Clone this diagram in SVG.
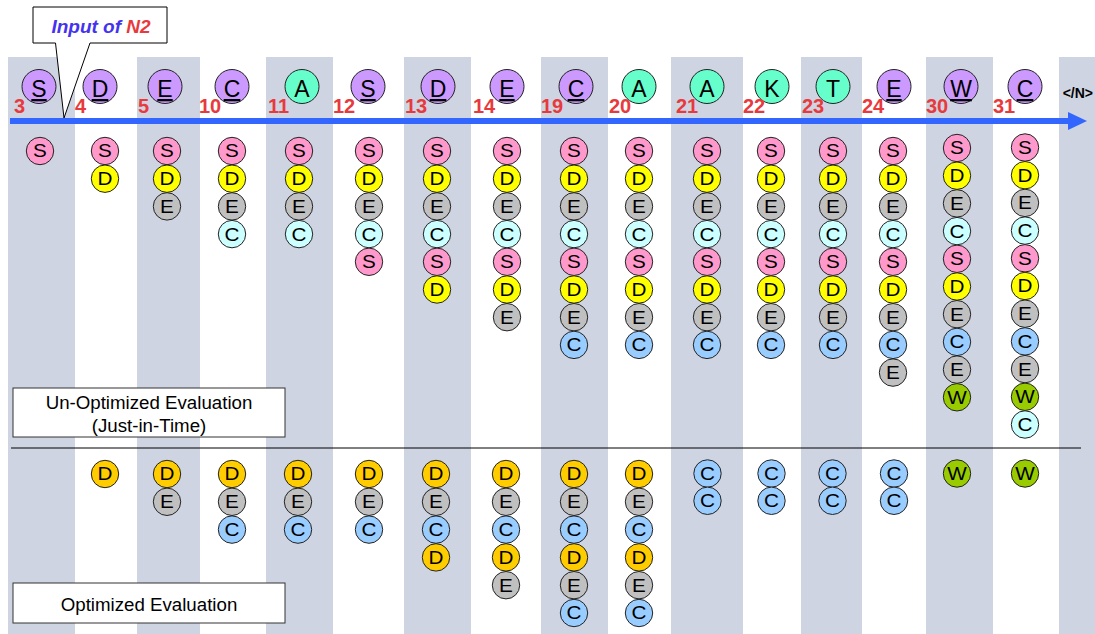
<svg xmlns="http://www.w3.org/2000/svg" width="1095" height="634" viewBox="0 0 1095 634">
<style>
.stripe{fill:#CED4E2}
.big{stroke:#222;stroke-width:1}
.sm{stroke:#222;stroke-width:1}
.bl{font-family:"Liberation Sans",Arial,sans-serif;font-size:23px;text-anchor:middle;fill:#000}
.u{text-decoration:underline}
.sl{font-family:"Liberation Sans",Arial,sans-serif;font-size:18px;text-anchor:middle;fill:#000}
.num{font-family:"Liberation Sans",Arial,sans-serif;font-size:20px;font-weight:bold;fill:#E8393D}
.lab{font-family:"Liberation Sans",Arial,sans-serif;font-size:18.7px;text-anchor:middle;fill:#000}
.box{fill:#fff;stroke:#333;stroke-width:1}
.pu{fill:#CC99FF}.gr{fill:#66FFCC}
.pk{fill:#FF99CC}.ye{fill:#FFFF00}.gy{fill:#C0C0C0}.lc{fill:#CCFFFF}.bu{fill:#99CCFF}.gn{fill:#99CC00}.or{fill:#FFCC00}
</style>
<rect width="1095" height="634" fill="#fff"/>
<g id="stripes">
<rect class="stripe" x="8" y="57" width="67" height="577"/>
<rect class="stripe" x="137" y="57" width="63" height="577"/>
<rect class="stripe" x="266" y="57" width="67" height="577"/>
<rect class="stripe" x="404" y="57" width="67" height="577"/>
<rect class="stripe" x="541" y="57" width="67" height="577"/>
<rect class="stripe" x="671" y="57" width="72" height="577"/>
<rect class="stripe" x="801" y="57" width="61" height="577"/>
<rect class="stripe" x="926" y="57" width="67" height="577"/>
<rect class="stripe" x="1059" y="57" width="36" height="577"/>
</g>
<g id="connectors">
<line x1="10" y1="121" x2="1070" y2="121" stroke="#3366FF" stroke-width="6"/>
<polygon points="1068,112 1087,121 1068,130" fill="#3366FF"/>
<line x1="11" y1="448" x2="1081" y2="448" stroke="#000" stroke-width="1"/>
</g>
<g id="callout">
<path d="M33,7 H167 V43 H90 L64,118 L55.5,43 H33 Z" fill="#fff" stroke="#000" stroke-width="1"/>
<text x="101" y="33" text-anchor="middle" font-family="'Liberation Sans',Arial,sans-serif" font-size="19" font-weight="bold" font-style="italic"><tspan fill="#4433EE">Input of </tspan><tspan fill="#E8393D">N2</tspan></text>
</g>
<g id="headers">
<g id="h0"><circle class="big pu" cx="39" cy="86.5" r="17"/><text class="bl u" x="39" y="97">S</text><text class="num" x="14" y="113">3</text></g>
<g id="h1"><circle class="big pu" cx="100" cy="86.5" r="17"/><text class="bl u" x="100" y="97">D</text><text class="num" x="75" y="113">4</text></g>
<g id="h2"><circle class="big pu" cx="165" cy="86.5" r="17"/><text class="bl u" x="165" y="97">E</text><text class="num" x="138" y="113">5</text></g>
<g id="h3"><circle class="big pu" cx="232" cy="86.5" r="17"/><text class="bl u" x="232" y="97">C</text><text class="num" x="199" y="113">10</text></g>
<g id="h4"><circle class="big gr" cx="302" cy="86.5" r="17"/><text class="bl" x="302" y="97">A</text><text class="num" x="268" y="113">11</text></g>
<g id="h5"><circle class="big pu" cx="368" cy="86.5" r="17"/><text class="bl u" x="368" y="97">S</text><text class="num" x="333" y="113">12</text></g>
<g id="h6"><circle class="big pu" cx="438" cy="86.5" r="17"/><text class="bl u" x="438" y="97">D</text><text class="num" x="405" y="113">13</text></g>
<g id="h7"><circle class="big pu" cx="507" cy="86.5" r="17"/><text class="bl u" x="507" y="97">E</text><text class="num" x="473" y="113">14</text></g>
<g id="h8"><circle class="big pu" cx="576" cy="86.5" r="17"/><text class="bl u" x="576" y="97">C</text><text class="num" x="541" y="113">19</text></g>
<g id="h9"><circle class="big gr" cx="639" cy="86.5" r="17"/><text class="bl" x="639" y="97">A</text><text class="num" x="609" y="113">20</text></g>
<g id="h10"><circle class="big gr" cx="707" cy="86.5" r="17"/><text class="bl" x="707" y="97">A</text><text class="num" x="676" y="113">21</text></g>
<g id="h11"><circle class="big gr" cx="772" cy="86.5" r="17"/><text class="bl" x="772" y="97">K</text><text class="num" x="743" y="113">22</text></g>
<g id="h12"><circle class="big gr" cx="833" cy="86.5" r="17"/><text class="bl" x="833" y="97">T</text><text class="num" x="802" y="113">23</text></g>
<g id="h13"><circle class="big pu" cx="894" cy="86.5" r="17"/><text class="bl u" x="894" y="97">E</text><text class="num" x="862" y="113">24</text></g>
<g id="h14"><circle class="big pu" cx="961" cy="86.5" r="17"/><text class="bl u" x="961" y="97">W</text><text class="num" x="926" y="113">30</text></g>
<g id="h15"><circle class="big pu" cx="1025" cy="86.5" r="17"/><text class="bl u" x="1025" y="97">C</text><text class="num" x="993" y="113">31</text></g>
<text x="1093" y="98" text-anchor="end" font-family="'Liberation Sans',Arial,sans-serif" font-size="14" font-weight="bold">&lt;/N&gt;</text>
</g>
<g id="upper">
<g id="u0">
<g transform="translate(40,151)"><circle class="sm pk" r="13.7"/><text class="sl" y="6.4" transform="scale(1.15,1)">S</text></g>
</g>
<g id="u1">
<g transform="translate(105,151)"><circle class="sm pk" r="13.7"/><text class="sl" y="6.4" transform="scale(1.15,1)">S</text></g>
<g transform="translate(105,178.7)"><circle class="sm ye" r="13.7"/><text class="sl" y="6.4" transform="scale(1.15,1)">D</text></g>
</g>
<g id="u2">
<g transform="translate(167,151)"><circle class="sm pk" r="13.7"/><text class="sl" y="6.4" transform="scale(1.15,1)">S</text></g>
<g transform="translate(167,178.7)"><circle class="sm ye" r="13.7"/><text class="sl" y="6.4" transform="scale(1.15,1)">D</text></g>
<g transform="translate(167,206.4)"><circle class="sm gy" r="13.7"/><text class="sl" y="6.4" transform="scale(1.15,1)">E</text></g>
</g>
<g id="u3">
<g transform="translate(232,151)"><circle class="sm pk" r="13.7"/><text class="sl" y="6.4" transform="scale(1.15,1)">S</text></g>
<g transform="translate(232,178.7)"><circle class="sm ye" r="13.7"/><text class="sl" y="6.4" transform="scale(1.15,1)">D</text></g>
<g transform="translate(232,206.4)"><circle class="sm gy" r="13.7"/><text class="sl" y="6.4" transform="scale(1.15,1)">E</text></g>
<g transform="translate(232,234.1)"><circle class="sm lc" r="13.7"/><text class="sl" y="6.4" transform="scale(1.15,1)">C</text></g>
</g>
<g id="u4">
<g transform="translate(299,151)"><circle class="sm pk" r="13.7"/><text class="sl" y="6.4" transform="scale(1.15,1)">S</text></g>
<g transform="translate(299,178.7)"><circle class="sm ye" r="13.7"/><text class="sl" y="6.4" transform="scale(1.15,1)">D</text></g>
<g transform="translate(299,206.4)"><circle class="sm gy" r="13.7"/><text class="sl" y="6.4" transform="scale(1.15,1)">E</text></g>
<g transform="translate(299,234.1)"><circle class="sm lc" r="13.7"/><text class="sl" y="6.4" transform="scale(1.15,1)">C</text></g>
</g>
<g id="u5">
<g transform="translate(369,151)"><circle class="sm pk" r="13.7"/><text class="sl" y="6.4" transform="scale(1.15,1)">S</text></g>
<g transform="translate(369,178.7)"><circle class="sm ye" r="13.7"/><text class="sl" y="6.4" transform="scale(1.15,1)">D</text></g>
<g transform="translate(369,206.4)"><circle class="sm gy" r="13.7"/><text class="sl" y="6.4" transform="scale(1.15,1)">E</text></g>
<g transform="translate(369,234.1)"><circle class="sm lc" r="13.7"/><text class="sl" y="6.4" transform="scale(1.15,1)">C</text></g>
<g transform="translate(369,261.8)"><circle class="sm pk" r="13.7"/><text class="sl" y="6.4" transform="scale(1.15,1)">S</text></g>
</g>
<g id="u6">
<g transform="translate(437,151)"><circle class="sm pk" r="13.7"/><text class="sl" y="6.4" transform="scale(1.15,1)">S</text></g>
<g transform="translate(437,178.7)"><circle class="sm ye" r="13.7"/><text class="sl" y="6.4" transform="scale(1.15,1)">D</text></g>
<g transform="translate(437,206.4)"><circle class="sm gy" r="13.7"/><text class="sl" y="6.4" transform="scale(1.15,1)">E</text></g>
<g transform="translate(437,234.1)"><circle class="sm lc" r="13.7"/><text class="sl" y="6.4" transform="scale(1.15,1)">C</text></g>
<g transform="translate(437,261.8)"><circle class="sm pk" r="13.7"/><text class="sl" y="6.4" transform="scale(1.15,1)">S</text></g>
<g transform="translate(437,289.5)"><circle class="sm ye" r="13.7"/><text class="sl" y="6.4" transform="scale(1.15,1)">D</text></g>
</g>
<g id="u7">
<g transform="translate(507,151)"><circle class="sm pk" r="13.7"/><text class="sl" y="6.4" transform="scale(1.15,1)">S</text></g>
<g transform="translate(507,178.7)"><circle class="sm ye" r="13.7"/><text class="sl" y="6.4" transform="scale(1.15,1)">D</text></g>
<g transform="translate(507,206.4)"><circle class="sm gy" r="13.7"/><text class="sl" y="6.4" transform="scale(1.15,1)">E</text></g>
<g transform="translate(507,234.1)"><circle class="sm lc" r="13.7"/><text class="sl" y="6.4" transform="scale(1.15,1)">C</text></g>
<g transform="translate(507,261.8)"><circle class="sm pk" r="13.7"/><text class="sl" y="6.4" transform="scale(1.15,1)">S</text></g>
<g transform="translate(507,289.5)"><circle class="sm ye" r="13.7"/><text class="sl" y="6.4" transform="scale(1.15,1)">D</text></g>
<g transform="translate(507,317.2)"><circle class="sm gy" r="13.7"/><text class="sl" y="6.4" transform="scale(1.15,1)">E</text></g>
</g>
<g id="u8">
<g transform="translate(574,151)"><circle class="sm pk" r="13.7"/><text class="sl" y="6.4" transform="scale(1.15,1)">S</text></g>
<g transform="translate(574,178.7)"><circle class="sm ye" r="13.7"/><text class="sl" y="6.4" transform="scale(1.15,1)">D</text></g>
<g transform="translate(574,206.4)"><circle class="sm gy" r="13.7"/><text class="sl" y="6.4" transform="scale(1.15,1)">E</text></g>
<g transform="translate(574,234.1)"><circle class="sm lc" r="13.7"/><text class="sl" y="6.4" transform="scale(1.15,1)">C</text></g>
<g transform="translate(574,261.8)"><circle class="sm pk" r="13.7"/><text class="sl" y="6.4" transform="scale(1.15,1)">S</text></g>
<g transform="translate(574,289.5)"><circle class="sm ye" r="13.7"/><text class="sl" y="6.4" transform="scale(1.15,1)">D</text></g>
<g transform="translate(574,317.2)"><circle class="sm gy" r="13.7"/><text class="sl" y="6.4" transform="scale(1.15,1)">E</text></g>
<g transform="translate(574,344.9)"><circle class="sm bu" r="13.7"/><text class="sl" y="6.4" transform="scale(1.15,1)">C</text></g>
</g>
<g id="u9">
<g transform="translate(639,151)"><circle class="sm pk" r="13.7"/><text class="sl" y="6.4" transform="scale(1.15,1)">S</text></g>
<g transform="translate(639,178.7)"><circle class="sm ye" r="13.7"/><text class="sl" y="6.4" transform="scale(1.15,1)">D</text></g>
<g transform="translate(639,206.4)"><circle class="sm gy" r="13.7"/><text class="sl" y="6.4" transform="scale(1.15,1)">E</text></g>
<g transform="translate(639,234.1)"><circle class="sm lc" r="13.7"/><text class="sl" y="6.4" transform="scale(1.15,1)">C</text></g>
<g transform="translate(639,261.8)"><circle class="sm pk" r="13.7"/><text class="sl" y="6.4" transform="scale(1.15,1)">S</text></g>
<g transform="translate(639,289.5)"><circle class="sm ye" r="13.7"/><text class="sl" y="6.4" transform="scale(1.15,1)">D</text></g>
<g transform="translate(639,317.2)"><circle class="sm gy" r="13.7"/><text class="sl" y="6.4" transform="scale(1.15,1)">E</text></g>
<g transform="translate(639,344.9)"><circle class="sm bu" r="13.7"/><text class="sl" y="6.4" transform="scale(1.15,1)">C</text></g>
</g>
<g id="u10">
<g transform="translate(707,151)"><circle class="sm pk" r="13.7"/><text class="sl" y="6.4" transform="scale(1.15,1)">S</text></g>
<g transform="translate(707,178.7)"><circle class="sm ye" r="13.7"/><text class="sl" y="6.4" transform="scale(1.15,1)">D</text></g>
<g transform="translate(707,206.4)"><circle class="sm gy" r="13.7"/><text class="sl" y="6.4" transform="scale(1.15,1)">E</text></g>
<g transform="translate(707,234.1)"><circle class="sm lc" r="13.7"/><text class="sl" y="6.4" transform="scale(1.15,1)">C</text></g>
<g transform="translate(707,261.8)"><circle class="sm pk" r="13.7"/><text class="sl" y="6.4" transform="scale(1.15,1)">S</text></g>
<g transform="translate(707,289.5)"><circle class="sm ye" r="13.7"/><text class="sl" y="6.4" transform="scale(1.15,1)">D</text></g>
<g transform="translate(707,317.2)"><circle class="sm gy" r="13.7"/><text class="sl" y="6.4" transform="scale(1.15,1)">E</text></g>
<g transform="translate(707,344.9)"><circle class="sm bu" r="13.7"/><text class="sl" y="6.4" transform="scale(1.15,1)">C</text></g>
</g>
<g id="u11">
<g transform="translate(771,151)"><circle class="sm pk" r="13.7"/><text class="sl" y="6.4" transform="scale(1.15,1)">S</text></g>
<g transform="translate(771,178.7)"><circle class="sm ye" r="13.7"/><text class="sl" y="6.4" transform="scale(1.15,1)">D</text></g>
<g transform="translate(771,206.4)"><circle class="sm gy" r="13.7"/><text class="sl" y="6.4" transform="scale(1.15,1)">E</text></g>
<g transform="translate(771,234.1)"><circle class="sm lc" r="13.7"/><text class="sl" y="6.4" transform="scale(1.15,1)">C</text></g>
<g transform="translate(771,261.8)"><circle class="sm pk" r="13.7"/><text class="sl" y="6.4" transform="scale(1.15,1)">S</text></g>
<g transform="translate(771,289.5)"><circle class="sm ye" r="13.7"/><text class="sl" y="6.4" transform="scale(1.15,1)">D</text></g>
<g transform="translate(771,317.2)"><circle class="sm gy" r="13.7"/><text class="sl" y="6.4" transform="scale(1.15,1)">E</text></g>
<g transform="translate(771,344.9)"><circle class="sm bu" r="13.7"/><text class="sl" y="6.4" transform="scale(1.15,1)">C</text></g>
</g>
<g id="u12">
<g transform="translate(833,151)"><circle class="sm pk" r="13.7"/><text class="sl" y="6.4" transform="scale(1.15,1)">S</text></g>
<g transform="translate(833,178.7)"><circle class="sm ye" r="13.7"/><text class="sl" y="6.4" transform="scale(1.15,1)">D</text></g>
<g transform="translate(833,206.4)"><circle class="sm gy" r="13.7"/><text class="sl" y="6.4" transform="scale(1.15,1)">E</text></g>
<g transform="translate(833,234.1)"><circle class="sm lc" r="13.7"/><text class="sl" y="6.4" transform="scale(1.15,1)">C</text></g>
<g transform="translate(833,261.8)"><circle class="sm pk" r="13.7"/><text class="sl" y="6.4" transform="scale(1.15,1)">S</text></g>
<g transform="translate(833,289.5)"><circle class="sm ye" r="13.7"/><text class="sl" y="6.4" transform="scale(1.15,1)">D</text></g>
<g transform="translate(833,317.2)"><circle class="sm gy" r="13.7"/><text class="sl" y="6.4" transform="scale(1.15,1)">E</text></g>
<g transform="translate(833,344.9)"><circle class="sm bu" r="13.7"/><text class="sl" y="6.4" transform="scale(1.15,1)">C</text></g>
</g>
<g id="u13">
<g transform="translate(893,151)"><circle class="sm pk" r="13.7"/><text class="sl" y="6.4" transform="scale(1.15,1)">S</text></g>
<g transform="translate(893,178.7)"><circle class="sm ye" r="13.7"/><text class="sl" y="6.4" transform="scale(1.15,1)">D</text></g>
<g transform="translate(893,206.4)"><circle class="sm gy" r="13.7"/><text class="sl" y="6.4" transform="scale(1.15,1)">E</text></g>
<g transform="translate(893,234.1)"><circle class="sm lc" r="13.7"/><text class="sl" y="6.4" transform="scale(1.15,1)">C</text></g>
<g transform="translate(893,261.8)"><circle class="sm pk" r="13.7"/><text class="sl" y="6.4" transform="scale(1.15,1)">S</text></g>
<g transform="translate(893,289.5)"><circle class="sm ye" r="13.7"/><text class="sl" y="6.4" transform="scale(1.15,1)">D</text></g>
<g transform="translate(893,317.2)"><circle class="sm gy" r="13.7"/><text class="sl" y="6.4" transform="scale(1.15,1)">E</text></g>
<g transform="translate(893,344.9)"><circle class="sm bu" r="13.7"/><text class="sl" y="6.4" transform="scale(1.15,1)">C</text></g>
<g transform="translate(893,372.6)"><circle class="sm gy" r="13.7"/><text class="sl" y="6.4" transform="scale(1.15,1)">E</text></g>
</g>
<g id="u14">
<g transform="translate(957,148)"><circle class="sm pk" r="13.7"/><text class="sl" y="6.4" transform="scale(1.15,1)">S</text></g>
<g transform="translate(957,175.7)"><circle class="sm ye" r="13.7"/><text class="sl" y="6.4" transform="scale(1.15,1)">D</text></g>
<g transform="translate(957,203.4)"><circle class="sm gy" r="13.7"/><text class="sl" y="6.4" transform="scale(1.15,1)">E</text></g>
<g transform="translate(957,231.1)"><circle class="sm lc" r="13.7"/><text class="sl" y="6.4" transform="scale(1.15,1)">C</text></g>
<g transform="translate(957,258.8)"><circle class="sm pk" r="13.7"/><text class="sl" y="6.4" transform="scale(1.15,1)">S</text></g>
<g transform="translate(957,286.5)"><circle class="sm ye" r="13.7"/><text class="sl" y="6.4" transform="scale(1.15,1)">D</text></g>
<g transform="translate(957,314.2)"><circle class="sm gy" r="13.7"/><text class="sl" y="6.4" transform="scale(1.15,1)">E</text></g>
<g transform="translate(957,341.9)"><circle class="sm bu" r="13.7"/><text class="sl" y="6.4" transform="scale(1.15,1)">C</text></g>
<g transform="translate(957,369.6)"><circle class="sm gy" r="13.7"/><text class="sl" y="6.4" transform="scale(1.15,1)">E</text></g>
<g transform="translate(957,397.3)"><circle class="sm gn" r="13.7"/><text class="sl" y="6.4" transform="scale(1.15,1)">W</text></g>
</g>
<g id="u15">
<g transform="translate(1025,147.5)"><circle class="sm pk" r="13.7"/><text class="sl" y="6.4" transform="scale(1.15,1)">S</text></g>
<g transform="translate(1025,175.2)"><circle class="sm ye" r="13.7"/><text class="sl" y="6.4" transform="scale(1.15,1)">D</text></g>
<g transform="translate(1025,202.9)"><circle class="sm gy" r="13.7"/><text class="sl" y="6.4" transform="scale(1.15,1)">E</text></g>
<g transform="translate(1025,230.6)"><circle class="sm lc" r="13.7"/><text class="sl" y="6.4" transform="scale(1.15,1)">C</text></g>
<g transform="translate(1025,258.3)"><circle class="sm pk" r="13.7"/><text class="sl" y="6.4" transform="scale(1.15,1)">S</text></g>
<g transform="translate(1025,286)"><circle class="sm ye" r="13.7"/><text class="sl" y="6.4" transform="scale(1.15,1)">D</text></g>
<g transform="translate(1025,313.7)"><circle class="sm gy" r="13.7"/><text class="sl" y="6.4" transform="scale(1.15,1)">E</text></g>
<g transform="translate(1025,341.4)"><circle class="sm bu" r="13.7"/><text class="sl" y="6.4" transform="scale(1.15,1)">C</text></g>
<g transform="translate(1025,369.1)"><circle class="sm gy" r="13.7"/><text class="sl" y="6.4" transform="scale(1.15,1)">E</text></g>
<g transform="translate(1025,396.8)"><circle class="sm gn" r="13.7"/><text class="sl" y="6.4" transform="scale(1.15,1)">W</text></g>
<g transform="translate(1025,424.5)"><circle class="sm lc" r="13.7"/><text class="sl" y="6.4" transform="scale(1.15,1)">C</text></g>
</g>
</g>
<g id="lower">
<g id="l1">
<g transform="translate(105,474)"><circle class="sm or" r="13.7"/><text class="sl" y="6.4" transform="scale(1.15,1)">D</text></g>
</g>
<g id="l2">
<g transform="translate(167,474)"><circle class="sm or" r="13.7"/><text class="sl" y="6.4" transform="scale(1.15,1)">D</text></g>
<g transform="translate(167,501.8)"><circle class="sm gy" r="13.7"/><text class="sl" y="6.4" transform="scale(1.15,1)">E</text></g>
</g>
<g id="l3">
<g transform="translate(232,474)"><circle class="sm or" r="13.7"/><text class="sl" y="6.4" transform="scale(1.15,1)">D</text></g>
<g transform="translate(232,501.8)"><circle class="sm gy" r="13.7"/><text class="sl" y="6.4" transform="scale(1.15,1)">E</text></g>
<g transform="translate(232,529.6)"><circle class="sm bu" r="13.7"/><text class="sl" y="6.4" transform="scale(1.15,1)">C</text></g>
</g>
<g id="l4">
<g transform="translate(298,474)"><circle class="sm or" r="13.7"/><text class="sl" y="6.4" transform="scale(1.15,1)">D</text></g>
<g transform="translate(298,501.8)"><circle class="sm gy" r="13.7"/><text class="sl" y="6.4" transform="scale(1.15,1)">E</text></g>
<g transform="translate(298,529.6)"><circle class="sm bu" r="13.7"/><text class="sl" y="6.4" transform="scale(1.15,1)">C</text></g>
</g>
<g id="l5">
<g transform="translate(369,474)"><circle class="sm or" r="13.7"/><text class="sl" y="6.4" transform="scale(1.15,1)">D</text></g>
<g transform="translate(369,501.8)"><circle class="sm gy" r="13.7"/><text class="sl" y="6.4" transform="scale(1.15,1)">E</text></g>
<g transform="translate(369,529.6)"><circle class="sm bu" r="13.7"/><text class="sl" y="6.4" transform="scale(1.15,1)">C</text></g>
</g>
<g id="l6">
<g transform="translate(436,474)"><circle class="sm or" r="13.7"/><text class="sl" y="6.4" transform="scale(1.15,1)">D</text></g>
<g transform="translate(436,501.8)"><circle class="sm gy" r="13.7"/><text class="sl" y="6.4" transform="scale(1.15,1)">E</text></g>
<g transform="translate(436,529.6)"><circle class="sm bu" r="13.7"/><text class="sl" y="6.4" transform="scale(1.15,1)">C</text></g>
<g transform="translate(436,557.4)"><circle class="sm or" r="13.7"/><text class="sl" y="6.4" transform="scale(1.15,1)">D</text></g>
</g>
<g id="l7">
<g transform="translate(506,474)"><circle class="sm or" r="13.7"/><text class="sl" y="6.4" transform="scale(1.15,1)">D</text></g>
<g transform="translate(506,501.8)"><circle class="sm gy" r="13.7"/><text class="sl" y="6.4" transform="scale(1.15,1)">E</text></g>
<g transform="translate(506,529.6)"><circle class="sm bu" r="13.7"/><text class="sl" y="6.4" transform="scale(1.15,1)">C</text></g>
<g transform="translate(506,557.4)"><circle class="sm or" r="13.7"/><text class="sl" y="6.4" transform="scale(1.15,1)">D</text></g>
<g transform="translate(506,585.2)"><circle class="sm gy" r="13.7"/><text class="sl" y="6.4" transform="scale(1.15,1)">E</text></g>
</g>
<g id="l8">
<g transform="translate(574,474)"><circle class="sm or" r="13.7"/><text class="sl" y="6.4" transform="scale(1.15,1)">D</text></g>
<g transform="translate(574,501.8)"><circle class="sm gy" r="13.7"/><text class="sl" y="6.4" transform="scale(1.15,1)">E</text></g>
<g transform="translate(574,529.6)"><circle class="sm bu" r="13.7"/><text class="sl" y="6.4" transform="scale(1.15,1)">C</text></g>
<g transform="translate(574,557.4)"><circle class="sm or" r="13.7"/><text class="sl" y="6.4" transform="scale(1.15,1)">D</text></g>
<g transform="translate(574,585.2)"><circle class="sm gy" r="13.7"/><text class="sl" y="6.4" transform="scale(1.15,1)">E</text></g>
<g transform="translate(574,613)"><circle class="sm bu" r="13.7"/><text class="sl" y="6.4" transform="scale(1.15,1)">C</text></g>
</g>
<g id="l9">
<g transform="translate(639,474)"><circle class="sm or" r="13.7"/><text class="sl" y="6.4" transform="scale(1.15,1)">D</text></g>
<g transform="translate(639,501.8)"><circle class="sm gy" r="13.7"/><text class="sl" y="6.4" transform="scale(1.15,1)">E</text></g>
<g transform="translate(639,529.6)"><circle class="sm bu" r="13.7"/><text class="sl" y="6.4" transform="scale(1.15,1)">C</text></g>
<g transform="translate(639,557.4)"><circle class="sm or" r="13.7"/><text class="sl" y="6.4" transform="scale(1.15,1)">D</text></g>
<g transform="translate(639,585.2)"><circle class="sm gy" r="13.7"/><text class="sl" y="6.4" transform="scale(1.15,1)">E</text></g>
<g transform="translate(639,613)"><circle class="sm bu" r="13.7"/><text class="sl" y="6.4" transform="scale(1.15,1)">C</text></g>
</g>
<g id="l10">
<g transform="translate(707.5,473.5)"><circle class="sm bu" r="13.7"/><text class="sl" y="6.4" transform="scale(1.15,1)">C</text></g>
<g transform="translate(707.5,500.8)"><circle class="sm bu" r="13.7"/><text class="sl" y="6.4" transform="scale(1.15,1)">C</text></g>
</g>
<g id="l11">
<g transform="translate(771.5,473.5)"><circle class="sm bu" r="13.7"/><text class="sl" y="6.4" transform="scale(1.15,1)">C</text></g>
<g transform="translate(771.5,500.8)"><circle class="sm bu" r="13.7"/><text class="sl" y="6.4" transform="scale(1.15,1)">C</text></g>
</g>
<g id="l12">
<g transform="translate(832.5,473.5)"><circle class="sm bu" r="13.7"/><text class="sl" y="6.4" transform="scale(1.15,1)">C</text></g>
<g transform="translate(832.5,500.8)"><circle class="sm bu" r="13.7"/><text class="sl" y="6.4" transform="scale(1.15,1)">C</text></g>
</g>
<g id="l13">
<g transform="translate(894,473.5)"><circle class="sm bu" r="13.7"/><text class="sl" y="6.4" transform="scale(1.15,1)">C</text></g>
<g transform="translate(894,500.8)"><circle class="sm bu" r="13.7"/><text class="sl" y="6.4" transform="scale(1.15,1)">C</text></g>
</g>
<g id="l14">
<g transform="translate(957,473.5)"><circle class="sm gn" r="13.7"/><text class="sl" y="6.4" transform="scale(1.15,1)">W</text></g>
</g>
<g id="l15">
<g transform="translate(1025,473.5)"><circle class="sm gn" r="13.7"/><text class="sl" y="6.4" transform="scale(1.15,1)">W</text></g>
</g>
</g>
<g id="label-unopt">
<rect class="box" x="13" y="388" width="272" height="49"/>
<text class="lab" x="149" y="409">Un-Optimized Evaluation</text>
<text class="lab" x="149" y="431.5">(Just-in-Time)</text>
</g>
<g id="label-opt">
<rect class="box" x="13" y="583" width="272" height="40"/>
<text class="lab" x="149" y="611">Optimized Evaluation</text>
</g>
</svg>
